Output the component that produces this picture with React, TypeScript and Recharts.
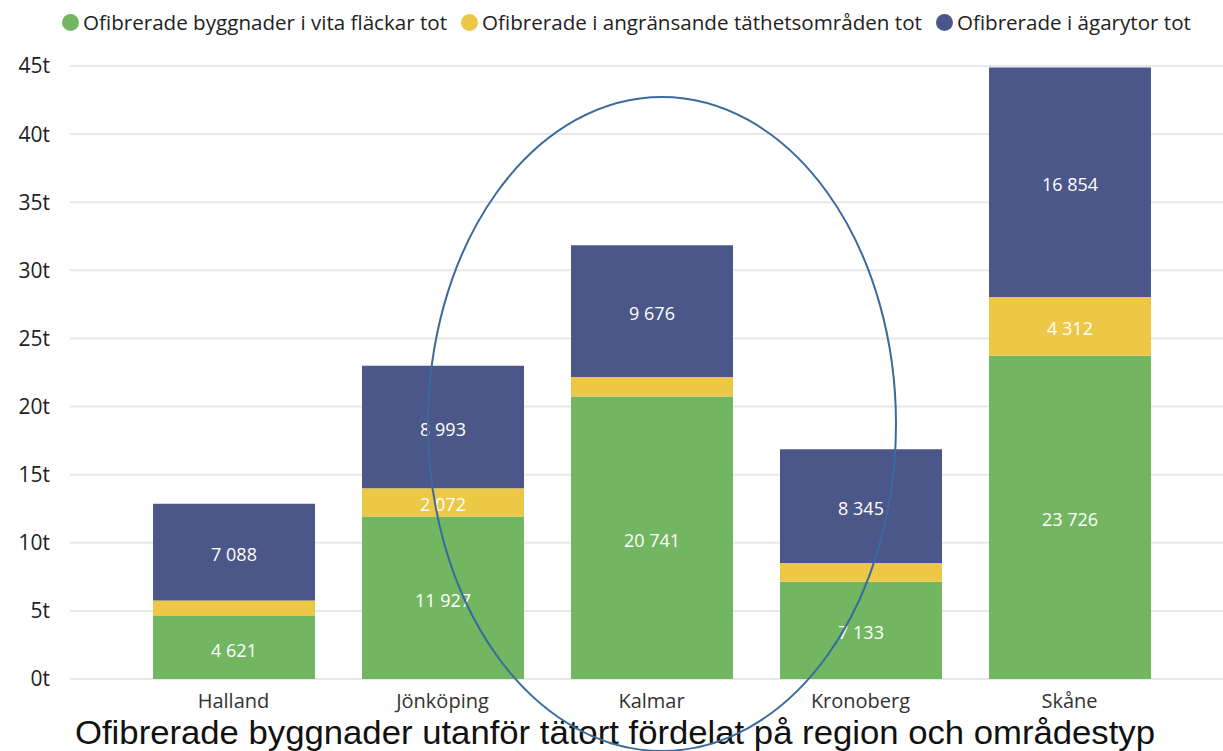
import { BarChart, Bar, XAxis, YAxis, CartesianGrid, LabelList } from "recharts"

const regions = ["Halland", "Jönköping", "Kalmar", "Kronoberg", "Skåne"]
const vitaFlackar = [4621, 11927, 20741, 7133, 23726]
const tathetsomraden = [1150, 2072, 1430, 1390, 4312]
const agarytor = [7088, 8993, 9676, 8345, 16854]
const yTicks = [0, 5000, 10000, 15000, 20000, 25000, 30000, 35000, 40000, 45000]

const seriesNames = [
  "Ofibrerade byggnader i vita fläckar tot",
  "Ofibrerade i angränsande täthetsområden tot",
  "Ofibrerade i ägarytor tot",
]
const colors = ["#72b662", "#ecc846", "#4a5788"]
const title = "Ofibrerade byggnader utanför tätort fördelat på region och områdestyp"

const data = regions.map((r, i) => ({
  region: r,
  vita: vitaFlackar[i],
  tathet: tathetsomraden[i],
  agar: agarytor[i],
}))

const font = "'Open Sans', sans-serif"

const fmt = (v: number) => String(v).replace(/\B(?=(\d{3})+(?!\d))/g, " ")

const SegmentLabel = (props: any) => {
  const { x, y, width, height, value } = props
  if (!value || height < 25) return null
  return (
    <text
      x={x + width / 2}
      y={y + height / 2 + 2}
      textAnchor="middle"
      dominantBaseline="central"
      fill="#ffffff"
      fontSize={18}
      fontFamily={font}
    >
      {fmt(value)}
    </text>
  )
}

const Legend = () => (
  <div
    style={{
      position: "absolute",
      top: 8,
      left: 62,
      display: "flex",
      alignItems: "center",
      fontFamily: font,
      fontSize: 20.6,
      color: "#222",
      whiteSpace: "nowrap",
    }}
  >
    {seriesNames.map((n, i) => (
      <span key={n} style={{ display: "flex", alignItems: "center", marginRight: 14 }}>
        <span
          style={{
            width: 17,
            height: 17,
            borderRadius: "50%",
            background: colors[i],
            display: "inline-block",
            marginRight: 4,
          }}
        />
        {n}
      </span>
    ))}
  </div>
)

export default function App() {
  return (
    <div style={{ position: "absolute", left: 0, top: 0, width: 1223, height: 751, background: "#fff", overflow: "hidden" }}>
      <BarChart
        width={1223}
        height={751}
        data={data}
        margin={{ top: 66, right: 0, bottom: 0, left: 0 }}
      >
        <CartesianGrid vertical={false} stroke="#e8e8e8" strokeWidth={2} />
        <XAxis
          dataKey="region"
          height={72}
          axisLine={false}
          tickLine={false}
          tickMargin={9}
          padding={{ left: 59, right: 49 }}
          tick={{ fill: "#333", fontSize: 20, fontFamily: font }}
        />
        <YAxis
          width={70}
          domain={[0, 45000]}
          ticks={yTicks}
          axisLine={false}
          tickLine={false}
          tickMargin={14}
          tickFormatter={(v: number) => `${v / 1000}t`}
          tick={{ fill: "#222", fontSize: 21, fontFamily: font }}
        />
        <Bar dataKey="vita" stackId="a" fill={colors[0]} barSize={162} isAnimationActive={false}>
          <LabelList dataKey="vita" content={SegmentLabel} />
        </Bar>
        <Bar dataKey="tathet" stackId="a" fill={colors[1]} barSize={162} isAnimationActive={false}>
          <LabelList dataKey="tathet" content={SegmentLabel} />
        </Bar>
        <Bar dataKey="agar" stackId="a" fill={colors[2]} barSize={162} isAnimationActive={false}>
          <LabelList dataKey="agar" content={SegmentLabel} />
        </Bar>
      </BarChart>
      <Legend />
      <svg width={1223} height={751} style={{ position: "absolute", left: 0, top: 0, pointerEvents: "none" }}>
        <text
          x={75}
          y={744}
          fontSize={34}
          fontFamily="'Liberation Sans', sans-serif"
          fill="#111"
          textLength={1080}
          lengthAdjust="spacingAndGlyphs"
        >
          {title}
        </text>
        <ellipse cx={662} cy={424} rx={234} ry={327} fill="none" stroke="#3b6a9c" strokeWidth={2} />
      </svg>
    </div>
  )
}
